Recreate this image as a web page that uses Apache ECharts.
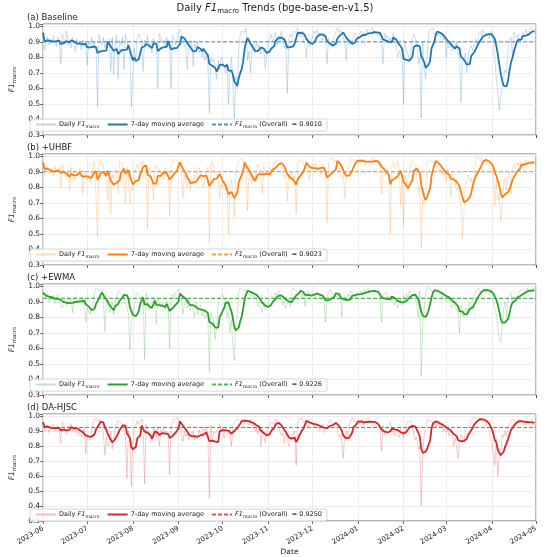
<!DOCTYPE html>
<html><head><meta charset="utf-8">
<script src="https://cdn.jsdelivr.net/npm/echarts@6/dist/echarts.min.js"></script>
<style>html,body{margin:0;padding:0;background:#fff}#c{width:550px;height:557px}</style>
</head><body><div id="c"></div>
<script>
// ---------- data ----------
const startDay = [2023, 5, 1];   // 2023-06-01 (month is 0-based)
const axisEnd = [2024, 4, 1];    // 2024-05-01
const panelTitles = ['(a) Baseline', '(b) +UHBF', '(c) +EWMA', '(d) DA-HJSC'];
const overallF1 = [0.9010, 0.9023, 0.9226, 0.9250];
const colors = ['#1f77b4', '#ff7f0e', '#2ca02c', '#d62728'];
const yTickValues = [0.3, 0.4, 0.5, 0.6, 0.7, 0.8, 0.9, 1.0];
const maWindow = 7;

// Daily F1 macro, 2023-06-01 .. 2024-04-30 (one line per month)
const dailyBaseline = [
.96,.85,.90,.93,.88,.92,.89,.94,.90,.87,.93,.91,.76,.95,.92,.89,.97,.88,.90,.86,.93,.89,.84,.92,.88,.90,.85,.91,.87,.89,
.75,.90,.88,.93,.86,.90,.85,.48,.95,.90,.88,.93,.86,.90,.89,.92,.71,.93,.69,.90,.94,.66,.91,.88,.93,.72,.95,.90,.87,.84,.48,
.70,.86,.78,.92,.95,.93,.90,.71,.91,.88,.94,.86,.89,.83,.92,.90,.88,.60,.95,.93,.89,.91,.86,.93,.87,.90,.60,.94,.92,.88,.91,
.96,.98,.95,.90,.88,.85,.72,.90,.87,.91,.74,.89,.86,.90,.83,.86,.80,.85,.78,.82,.76,.44,.80,.77,.79,.74,.66,.78,.72,.80,
.78,.74,.70,.76,.50,.72,.80,.62,.40,.68,.60,.85,.95,.97,.98,.96,.99,.78,.84,.70,.86,.89,.83,.90,.86,.88,.82,.87,.84,.73,.80,
.88,.92,.95,.90,.93,.96,.88,.94,.91,.97,.89,.86,.90,.57,.92,.95,.93,.97,.98,.96,.99,.95,.93,.97,.90,.88,.80,.92,.87,.90,
.93,.97,.95,.98,.94,.96,.93,.91,.95,.88,.76,.92,.87,.90,.86,.94,.97,.99,.96,.98,.95,.93,.90,.78,.92,.88,.91,.89,.93,.96,.94,
.92,.95,.97,.93,.96,.94,.98,.95,.97,.96,.99,.95,.97,.94,.96,.93,.90,.76,.95,.92,.94,.90,.93,.89,.96,.91,.88,.80,.84,.82,.78,
.50,.90,.85,.82,.78,.86,.92,.95,.93,.88,.76,.80,.41,.90,.72,.66,.82,.96,.98,.97,.99,.95,.97,.94,.96,.93,.95,.91,.94,
.80,.90,.86,.88,.84,.87,.85,.90,.82,.84,.51,.80,.78,.83,.70,.82,.86,.88,.84,.90,.92,.88,.95,.97,.94,.98,.93,.96,.95,.92,.97,
.93,.90,.80,.66,.58,.46,.55,.60,.68,.72,.70,.85,.90,.93,.80,.96,.94,.92,.95,.90,.93,.96,.94,.98,.95,.97,.96,.99,.97,.96
];
const dailyUHBF = [
.96,.88,.91,.93,.89,.90,.92,.87,.94,.90,.89,.93,.80,.95,.91,.88,.86,.90,.78,.93,.88,.91,.85,.90,.87,.92,.86,.76,.91,.89,
.85,.88,.83,.90,.94,.97,.96,.48,.98,.99,.97,.96,.88,.85,.72,.90,.63,.88,.86,.92,.90,.76,.97,.98,.96,.95,.70,.93,.89,.69,.80,
.78,.86,.93,.95,.92,.96,.94,.97,.95,.90,.53,.93,.88,.86,.72,.91,.94,.89,.92,.87,.90,.85,.93,.88,.91,.61,.95,.97,.96,.98,.97,
.96,.94,.90,.73,.88,.84,.80,.86,.78,.85,.82,.88,.86,.91,.93,.89,.84,.80,.86,.90,.93,.44,.95,.97,.92,.90,.88,.85,.73,.82,
.80,.84,.78,.82,.50,.80,.85,.76,.61,.90,.94,.97,.98,.99,.97,.98,.92,.65,.90,.86,.83,.88,.85,.92,.95,.90,.87,.76,.93,.90,.91,
.88,.93,.90,.94,.97,.95,.98,.96,.97,.93,.90,.86,.88,.71,.89,.86,.90,.85,.88,.63,.95,.97,.96,.98,.95,.93,.97,.90,.84,.93,
.95,.92,.96,.94,.90,.93,.88,.95,.92,.90,.57,.96,.98,.97,.99,.96,.98,.95,.92,.88,.86,.90,.73,.88,.92,.96,.97,.99,.98,.97,.96,
.98,.95,.97,.99,.96,.94,.97,.98,.95,.97,.99,.96,.98,.97,.95,.93,.76,.92,.90,.88,.92,.86,.50,.94,.96,.93,.95,.97,.91,.69,.85,
.55,.88,.82,.86,.90,.95,.97,.98,.94,.85,.76,.80,.41,.72,.70,.80,.96,.98,.99,.97,.98,.96,.95,.93,.90,.92,.88,.91,.86,
.84,.92,.85,.74,.89,.86,.83,.78,.80,.75,.66,.48,.63,.82,.85,.88,.84,.86,.80,.87,.99,.98,.99,.97,.99,.98,.96,.97,.95,.96,.93,
.90,.86,.68,.85,.72,.76,.58,.70,.82,.86,.78,.88,.90,.76,.93,.95,.92,.96,.94,.97,.95,.93,.96,.98,.95,.97,.96,.94,.97,.95
];
const dailyEWMA = [
.96,.94,.92,.95,.90,.93,.91,.94,.89,.92,.95,.90,.88,.86,.89,.91,.87,.93,.90,.92,.83,.91,.94,.89,.92,.90,.93,.88,.91,.77,
.86,.84,.82,.85,.88,.97,.99,.98,.97,.96,.98,.90,.71,.92,.88,.83,.86,.90,.82,.89,.93,.97,.98,.95,.96,.94,.93,.86,.82,.59,.78,
.80,.86,.94,.96,.95,.93,.92,.94,.53,.96,.97,.85,.88,.90,.93,.87,.76,.92,.89,.86,.90,.88,.85,.91,.89,.60,.93,.95,.92,.96,.97,
.98,.96,.93,.82,.88,.90,.86,.92,.84,.88,.87,.80,.90,.82,.86,.88,.81,.84,.79,.82,.80,.45,.83,.80,.78,.66,.74,.88,.93,.94,
.95,.92,.90,.80,.83,.70,.78,.62,.52,.76,.80,.97,.99,.98,.97,.96,.98,.95,.97,.94,.96,.93,.95,.92,.87,.90,.86,.83,.90,.85,.84,
.89,.92,.94,.95,.93,.96,.94,.97,.91,.95,.88,.90,.86,.89,.92,.87,.97,.99,.98,.97,.96,.95,.98,.93,.96,.87,.95,.97,.94,.96,
.97,.95,.93,.96,.94,.92,.95,.93,.90,.77,.94,.96,.98,.97,.95,.96,.94,.93,.91,.96,.80,.92,.94,.90,.95,.93,.97,.96,.94,.95,.93,
.96,.94,.97,.95,.98,.96,.97,.99,.95,.97,.96,.98,.97,.95,.96,.93,.77,.94,.93,.96,.95,.92,.94,.90,.93,.88,.91,.86,.89,.92,.88,
.94,.90,.95,.93,.97,.96,.95,.94,.92,.88,.80,.97,.42,.74,.86,.95,.99,.98,.99,.97,.98,.96,.97,.95,.94,.96,.93,.95,.91,
.92,.90,.93,.88,.86,.90,.87,.85,.82,.70,.88,.84,.80,.86,.83,.88,.90,.85,.92,.94,.97,.98,.99,.96,.98,.97,.99,.96,.98,.95,.97,
.93,.90,.85,.82,.75,.66,.64,.74,.86,.90,.80,.93,.92,.96,.89,.94,.91,.93,.95,.97,.96,.98,.97,.96,.99,.97,.98,.96,.99,.97
];
const dailyDAHJSC = [
.96,.90,.92,.94,.89,.93,.91,.95,.90,.92,.94,.90,.82,.96,.93,.91,.88,.94,.92,.95,.90,.93,.89,.91,.87,.90,.86,.89,.92,.75,
.88,.86,.84,.90,.96,.98,.97,.99,.96,.98,.95,.88,.74,.86,.80,.82,.90,.78,.85,.92,.95,.97,.98,.96,.94,.90,.86,.58,.90,.85,.53,
.84,.92,.94,.97,.95,.96,.98,.93,.55,.95,.91,.90,.88,.83,.92,.90,.86,.93,.80,.91,.89,.92,.88,.90,.87,.61,.94,.96,.98,.97,.99,
.97,.95,.88,.83,.90,.86,.89,.84,.88,.86,.90,.84,.87,.85,.91,.88,.86,.93,.90,.92,.89,.45,.94,.83,.90,.88,.87,.92,.95,.90,
.93,.85,.92,.90,.88,.91,.80,.94,.96,.97,.98,.99,.97,.96,.98,.95,.97,.96,.94,.98,.93,.95,.90,.92,.88,.94,.80,.91,.87,.82,.89,
.92,.94,.96,.97,.95,.98,.96,.94,.90,.87,.89,.82,.88,.85,.80,.84,.87,.86,.90,.67,.96,.98,.97,.99,.96,.95,.97,.93,.95,.94,
.96,.93,.95,.92,.94,.90,.92,.95,.89,.91,.93,.96,.98,.97,.95,.96,.94,.90,.86,.88,.84,.72,.87,.90,.85,.93,.97,.99,.98,.96,.95,
.97,.95,.96,.98,.94,.97,.96,.99,.95,.97,.96,.94,.95,.92,.93,.90,.77,.94,.88,.90,.92,.93,.96,.89,.92,.87,.91,.88,.86,.92,.90,
.86,.90,.95,.97,.98,.96,.93,.88,.84,.86,.78,.80,.40,.72,.88,.91,.98,.99,.97,.98,.96,.95,.93,.97,.94,.92,.95,.90,.92,
.89,.91,.87,.90,.88,.80,.86,.85,.72,.84,.88,.86,.83,.90,.92,.91,.94,.97,.99,.98,.99,.98,.97,.99,.96,.98,.97,.95,.92,.90,.86,
.82,.76,.67,.85,.60,.72,.76,.88,.86,.90,.87,.93,.95,.97,.96,.98,.95,.97,.96,.98,.97,.95,.96,.94,.97,.95,.96,.98,.94,.96
];
const panels = [dailyBaseline, dailyUHBF, dailyEWMA, dailyDAHJSC];

// ---------- build ----------
panels.forEach((p, i) => { if (p.length !== 335) throw new Error('panel ' + i + ' length ' + p.length); });

const FONT = 'DejaVu Sans';
const day = i => new Date(startDay[0], startDay[1], startDay[2] + i).getTime();
const xMin = day(0);
const xMax = new Date(axisEnd[0], axisEnd[1], axisEnd[2]).getTime();

function rollingMean(arr, w) {
  return arr.map((_, i) => {
    const s = Math.max(0, i - w + 1);
    let sum = 0;
    for (let k = s; k <= i; k++) sum += arr[k];
    return sum / (i - s + 1);
  });
}
function rich(fs) {
  return {
    n: { fontSize: fs, lineHeight: fs * 1.4, fontFamily: FONT, fontWeight: 'normal', color: '#222' },
    i: { fontSize: fs, lineHeight: fs * 1.4, fontFamily: FONT, fontWeight: 'normal', fontStyle: 'italic', color: '#222' },
    s: { fontSize: fs * 0.7, lineHeight: fs * 0.75, fontFamily: FONT, fontWeight: 'normal', verticalAlign: 'bottom', color: '#222' }
  };
}
function hexA(hex, a) {
  const n = parseInt(hex.slice(1), 16);
  return `rgba(${(n >> 16) & 255},${(n >> 8) & 255},${n & 255},${a})`;
}

const tops = [24, 154, 284, 414];
const H = 111, L = 27, W = 509;
const grids = [], xAxes = [], yAxes = [], series = [], legends = [], titles = [];
const tag = ['a', 'b', 'c', 'd'];

titles.push({
  text: '{n|Daily }{i|F1}{s|macro}{n| Trends (bge-base-en-v1.5)}',
  left: 'center', top: 1, padding: 0,
  textStyle: { fontWeight: 'normal', rich: rich(10) }
});

panels.forEach((daily, i) => {
  const top = tops[i];
  const last = i === panels.length - 1;
  const col = colors[i];
  grids.push({ left: L, top: top, width: W, height: H, show: true, borderColor: '#555', borderWidth: 0.8, backgroundColor: '#fff' });
  titles.push({ text: panelTitles[i], left: L, top: top - 11, padding: 0,
    textStyle: { fontFamily: FONT, fontSize: 8.5, fontWeight: 'normal', color: '#222' } });
  xAxes.push({
    type: 'time', gridIndex: i, min: xMin, max: xMax, splitNumber: 11,
    minInterval: 28 * 86400000, maxInterval: 31 * 86400000,
    axisLine: { show: false },
    axisTick: { show: true, length: 3, lineStyle: { color: '#444', width: 0.8 } },
    splitLine: { show: true, lineStyle: { color: '#e8e8e8', width: 0.8 } },
    axisLabel: last ? { show: true, rotate: 30, fontSize: 7, fontFamily: FONT, color: '#222', margin: 7,
      formatter: '{yyyy}-{MM}', showMinLabel: true, showMaxLabel: true, hideOverlap: false } : { show: false },
    name: last ? 'Date' : '', nameLocation: 'middle', nameGap: 27,
    nameTextStyle: { fontFamily: FONT, fontSize: 7.5, color: '#222' }
  });
  yAxes.push({
    type: 'value', gridIndex: i, min: yTickValues[0], max: 1.015, interval: 0.1,
    axisLine: { show: false },
    axisTick: { show: true, length: 3, lineStyle: { color: '#444', width: 0.8 } },
    splitLine: { show: true, lineStyle: { color: '#e8e8e8', width: 0.8 } },
    axisLabel: { fontSize: 7.5, fontFamily: FONT, color: '#222', margin: 3,
      formatter: v => yTickValues.some(t => Math.abs(t - v) < 1e-6) ? v.toFixed(1) : '' },
    name: '{i|F1}{s|macro}', nameLocation: 'middle', nameRotate: 90, nameGap: 17,
    nameTextStyle: { rich: rich(7.5) }
  });
  const ma = rollingMean(daily, maWindow);
  const nD = 'Daily·' + tag[i], nM = 'MA·' + tag[i], nO = 'Overall·' + tag[i];
  series.push({
    name: nD, type: 'line', xAxisIndex: i, yAxisIndex: i, symbol: 'none', z: 2,
    lineStyle: { color: hexA(col, 0.3), width: 0.8 }, itemStyle: { color: hexA(col, 0.3) },
    data: daily.map((v, k) => [day(k), v])
  });
  series.push({
    name: nM, type: 'line', xAxisIndex: i, yAxisIndex: i, symbol: 'none', z: 4,
    lineStyle: { color: col, width: 1.8 }, itemStyle: { color: col },
    data: ma.map((v, k) => [day(k), v])
  });
  series.push({
    name: nO, type: 'line', xAxisIndex: i, yAxisIndex: i, symbol: 'none', z: 3,
    lineStyle: { color: hexA(col, 0.8), width: 1.1, type: [4, 2] }, itemStyle: { color: hexA(col, 0.8) },
    data: [[xMin, overallF1[i]], [xMax, overallF1[i]]]
  });
  const ov = overallF1[i].toFixed(4);
  legends.push({
    left: L + 3, top: top + 95, orient: 'horizontal',
    data: [nD, nM, nO], itemWidth: 20, itemHeight: 6, itemGap: 7,
    padding: [2, 5, 2, 5], borderColor: '#cccccc', borderWidth: 0.8, borderRadius: 2,
    backgroundColor: 'rgba(255,255,255,0.85)', selectedMode: false,
    itemStyle: { opacity: 0, color: 'transparent', borderWidth: 0 },
    textStyle: { rich: rich(6.5), padding: [0, 0, 0, -2] },
    formatter: name => {
      const t = name.split('·')[0];
      if (t === 'Daily') return '{n|Daily }{i|F1}{s|macro}';
      if (t === 'MA') return '{n|7-day moving average}';
      return '{i|F1}{s|macro}{n| (Overall)  = ' + ov + '}';
    }
  });
});

const chart = echarts.init(document.getElementById('c'), null, { renderer: 'canvas' });
chart.setOption({
  animation: false, backgroundColor: '#fff',
  title: titles, grid: grids, xAxis: xAxes, yAxis: yAxes, legend: legends, series: series
});
</script></body></html>
